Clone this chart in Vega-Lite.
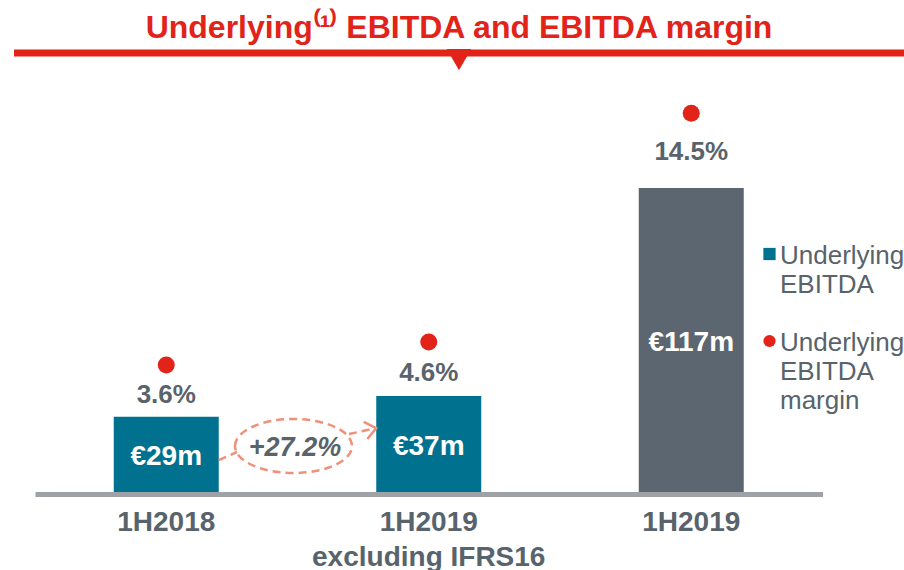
{
  "$schema": "https://vega.github.io/schema/vega-lite/v6.json",
  "width": 890,
  "height": 439,
  "autosize": {"type": "none"},
  "padding": {"left": 14, "top": 53, "right": 0, "bottom": 78},
  "background": "white",
  "config": {"view": {"stroke": null}, "font": "Liberation Sans"},
  "title": {
    "text": "Underlying⁽¹⁾ EBITDA and EBITDA margin",
    "font": "Liberation Sans",
    "fontSize": 32,
    "fontWeight": "bold",
    "color": "#e2231a",
    "anchor": "middle",
    "frame": "group",
    "offset": -21,
    "baseline": "alphabetic"
  },
  "datasets": {
    "main": [
      {"period": "1H2018", "ebitda": 29, "ebitda_label": "€29m", "margin": 3.6, "margin_label": "3.6%", "series": "Underlying EBITDA"},
      {"period": "1H2019 excl", "ebitda": 37, "ebitda_label": "€37m", "margin": 4.6, "margin_label": "4.6%", "series": "Underlying EBITDA"},
      {"period": "1H2019", "ebitda": 117, "ebitda_label": "€117m", "margin": 14.5, "margin_label": "14.5%", "series": "Underlying EBITDA (IFRS16)"}
    ],
    "growth": [
      {"from": "1H2018", "to": "1H2019 excl", "growth": "+27.2%"}
    ],
    "frame": [
      {"part": "header"}
    ]
  },
  "layer": [
    {
      "data": {"name": "frame"},
      "mark": {"type": "rule", "color": "#e2231a", "strokeWidth": 7},
      "encoding": {
        "y": {"datum": 1, "type": "quantitative", "scale": {"domain": [0, 1]}, "axis": null}
      }
    },
    {
      "data": {"name": "frame"},
      "mark": {"type": "point", "shape": "triangle-down", "filled": true, "color": "#e2231a", "size": 600, "opacity": 1},
      "encoding": {
        "y": {"datum": 0.985, "type": "quantitative", "scale": {"domain": [0, 1]}, "axis": null}
      }
    },
    {
      "data": {"name": "main"},
      "mark": {"type": "bar"},
      "encoding": {
        "x": {
          "field": "period",
          "type": "nominal",
          "sort": null,
          "scale": {"domain": ["1H2018", "1H2019 excl", "1H2019"], "range": [21, 808.5], "paddingInner": 0.6, "paddingOuter": 0.3},
          "axis": {
            "title": null,
            "domainColor": "#9ea2a6",
            "domainWidth": 5,
            "ticks": false,
            "labelAngle": 0,
            "labelFont": "Liberation Sans",
            "labelFontSize": 28,
            "labelFontWeight": "bold",
            "labelColor": "#58636b",
            "labelPadding": 14,
            "labelLineHeight": 35,
            "labelLimit": 400,
            "offset": 2,
            "labelExpr": "datum.value == '1H2019 excl' ? ['1H2019', 'excluding IFRS16'] : datum.value"
          }
        },
        "y": {"field": "ebitda", "type": "quantitative", "scale": {"domain": [0, 169]}, "axis": null},
        "color": {
          "field": "series",
          "type": "nominal",
          "scale": {
            "domain": ["Underlying EBITDA", "Underlying EBITDA margin", "Underlying EBITDA (IFRS16)"],
            "range": ["#00718f", "#e2231a", "#5c6670"]
          },
          "legend": {
            "orient": "none",
            "legendX": 742.5,
            "legendY": 188,
            "title": null,
            "values": ["Underlying EBITDA", "Underlying EBITDA margin"],
            "symbolSize": 150,
            "labelFont": "Liberation Sans",
            "labelFontSize": 26,
            "labelColor": "#58636b",
            "labelOffset": -2.5,
            "labelLimit": 400,
            "labelBaseline": "top",
            "rowPadding": 30,
            "labelExpr": "datum.value == 'Underlying EBITDA' ? ['Underlying', 'EBITDA'] : ['Underlying', 'EBITDA', 'margin']",
            "encode": {
              "symbols": {"update": {
                "shape": {"signal": "datum.value == 'Underlying EBITDA' ? 'square' : 'circle'"},
                "fill": {"scale": "color", "field": "value"},
                "strokeWidth": {"value": 0}
              }},
              "labels": {"update": {"lineHeight": {"value": 29}, "dy": {"value": -11}}}
            }
          }
        }
      }
    },
    {
      "data": {"name": "main"},
      "mark": {"type": "text", "color": "white", "fontSize": 28, "fontWeight": "bold", "font": "Liberation Sans", "baseline": "middle", "dy": 3},
      "encoding": {
        "x": {"field": "period", "type": "nominal", "sort": null},
        "y": {"field": "ebitda", "type": "quantitative", "scale": {"domain": [0, 338]}, "axis": null},
        "text": {"field": "ebitda_label"}
      }
    },
    {
      "data": {"name": "main"},
      "mark": {"type": "point", "filled": true, "size": 290, "opacity": 1},
      "encoding": {
        "x": {"field": "period", "type": "nominal", "sort": null},
        "y": {"field": "margin", "type": "quantitative", "scale": {"domain": [-1.896, 17.108]}, "axis": null},
        "color": {"datum": "Underlying EBITDA margin", "type": "nominal"}
      }
    },
    {
      "data": {"name": "main"},
      "mark": {"type": "text", "color": "#58636b", "fontSize": 26, "fontWeight": "bold", "font": "Liberation Sans", "baseline": "middle"},
      "encoding": {
        "x": {"field": "period", "type": "nominal", "sort": null},
        "y": {"field": "margin", "type": "quantitative", "scale": {"domain": [-0.749, 18.937]}, "axis": null},
        "text": {"field": "margin_label"}
      }
    },
    {
      "data": {"name": "growth"},
      "mark": {"type": "point", "shape": "M -1 0 A 1 0.4615 0 1 1 1 0 A 1 0.4615 0 1 1 -1 0 Z", "filled": false, "size": 13689, "stroke": "#f0907a", "strokeWidth": 2.5, "strokeDash": [8, 5], "opacity": 1},
      "encoding": {
        "x": {"field": "from", "type": "nominal", "bandPosition": 1.712},
        "y": {"datum": 17.7, "type": "quantitative", "scale": {"domain": [0, 169]}, "axis": null}
      }
    },
    {
      "data": {"name": "growth"},
      "mark": {"type": "rule", "stroke": "#f0907a", "strokeWidth": 2.5, "strokeDash": [8, 5]},
      "encoding": {
        "x": {"field": "from", "type": "nominal", "bandPosition": 1},
        "x2": {"field": "from", "bandPosition": 1.174},
        "y": {"datum": 12.3, "type": "quantitative", "scale": {"domain": [0, 169]}, "axis": null},
        "y2": {"datum": 15.4}
      }
    },
    {
      "data": {"name": "growth"},
      "mark": {"type": "rule", "stroke": "#f0907a", "strokeWidth": 2.5, "strokeDash": [8, 5]},
      "encoding": {
        "x": {"field": "to", "type": "nominal", "bandPosition": -0.26},
        "x2": {"field": "to", "bandPosition": 0},
        "y": {"datum": 22.3, "type": "quantitative", "scale": {"domain": [0, 169]}, "axis": null},
        "y2": {"datum": 24.6}
      }
    },
    {
      "data": {"name": "growth"},
      "mark": {"type": "point", "shape": "M -1 -0.8 L 0 0 L -1 0.8", "filled": false, "size": 484, "stroke": "#f0907a", "strokeWidth": 2.5, "angle": -12, "opacity": 1},
      "encoding": {
        "x": {"field": "to", "type": "nominal", "bandPosition": 0},
        "y": {"datum": 24.6, "type": "quantitative", "scale": {"domain": [0, 169]}, "axis": null}
      }
    },
    {
      "data": {"name": "growth"},
      "mark": {"type": "text", "color": "#58636b", "fontSize": 27, "fontWeight": "bold", "fontStyle": "italic", "font": "Liberation Sans", "baseline": "middle"},
      "encoding": {
        "x": {"field": "from", "type": "nominal", "bandPosition": 1.726},
        "y": {"datum": 16.9, "type": "quantitative", "scale": {"domain": [0, 169]}, "axis": null},
        "text": {"field": "growth"}
      }
    }
  ],
  "resolve": {"scale": {"y": "independent"}}
}
